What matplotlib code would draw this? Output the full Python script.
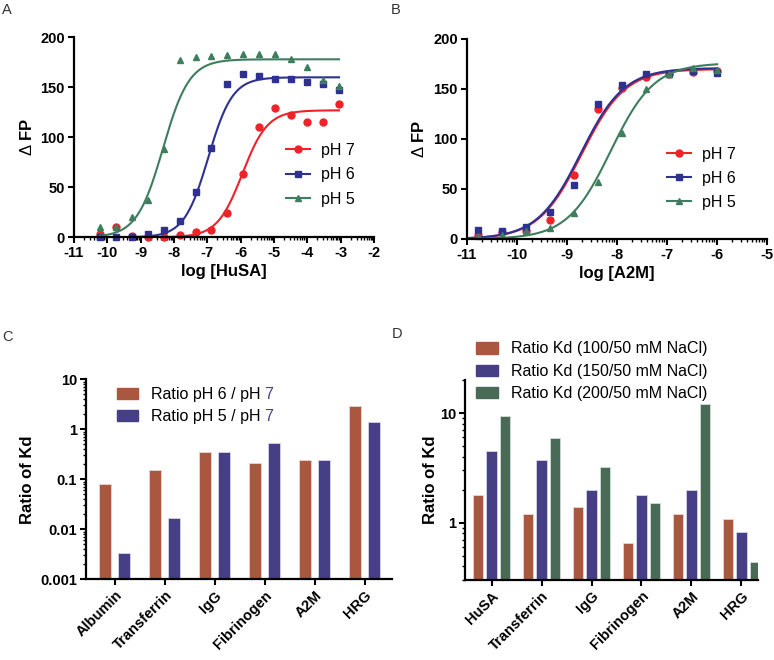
import numpy as np
import matplotlib
matplotlib.use("Agg")
import matplotlib.pyplot as plt
from matplotlib.lines import Line2D
from matplotlib.ticker import FixedLocator, NullFormatter

plt.rcParams['font.family'] = ['Liberation Sans', 'DejaVu Sans']
plt.rcParams['axes.unicode_minus'] = False
plt.rcParams['mathtext.fontset'] = 'custom'
plt.rcParams['mathtext.rm'] = 'Liberation Sans'

# Panel A: titulación con HuSA (log de concentración)
log_husa = [-10.21, -9.73, -9.26, -8.78, -8.30, -7.83, -7.35, -6.88,
            -6.41, -5.93, -5.45, -4.97, -4.49, -4.01, -3.53, -3.05]
husa_ph7 = [3, 10, 1.7, 0, 0, 2, 5, 7, 24, 63, 110, 129, 122, 115, 115, 133]
husa_ph6 = [0.7, 0, 0.7, 3, 7, 16, 45, 89, 153, 163, 161, 158, 158, 155, 153, 147]
husa_ph5 = [10.7, 10.7, 20, 37, 88, 177, 180, 181, 182, 183, 183, 183, 178, 170, 157, 151]
# parámetros del ajuste sigmoidal (pH 7, pH 6, pH 5)
husa_top = [127, 160, 178]
husa_ec50 = [-5.95, -6.97, -8.33]
husa_hill = [1.15, 1.2, 1.1]

# Panel B: titulación con A2M
log_a2m = [-10.77, -10.30, -9.82, -9.33, -8.85, -8.37, -7.90, -7.42, -6.95, -6.47, -5.99]
a2m_ph7 = [4, 6.7, 8.3, 19, 64, 130, 151, 162, 165, 167, 168]
a2m_ph6 = [9, 8.3, 12, 27, 54, 135, 154, 165, 165, 168, 166]
a2m_ph5 = [3.3, 4.3, 8, 11.3, 25.7, 56.7, 106, 150, 165, 171, 169]
a2m_top = [170, 171, 176]
a2m_ec50 = [-8.70, -8.72, -8.12]
a2m_hill = [1.0, 1.0, 1.0]

ph_labels = ['pH 7', 'pH 6', 'pH 5']

# Panel C: razón de Kd según pH
prot_c = ['Albumin', 'Transferrin', 'IgG', 'Fibrinogen', 'A2M', 'HRG']
ratio_ph6 = [0.081, 0.151, 0.352, 0.212, 0.244, 2.93]
ratio_ph5 = [0.0034, 0.0166, 0.352, 0.533, 0.244, 1.38]

# Panel D: razón de Kd según NaCl
prot_d = ['HuSA', 'Transferrin', 'IgG', 'Fibrinogen', 'A2M', 'HRG']
nacl_100 = [1.79, 1.2, 1.39, 0.656, 1.2, 1.09]
nacl_150 = [4.46, 3.69, 1.99, 1.77, 1.99, 0.828]
nacl_200 = [9.45, 5.9, 3.21, 1.52, 12.1, 0.434]
nacl_labels = ['Ratio Kd (100/50 mM NaCl)', 'Ratio Kd (150/50 mM NaCl)',
               'Ratio Kd (200/50 mM NaCl)']

# Colores
c_red = '#EE2229'
c_blue = '#2E3192'
c_green = '#3E7D5E'
b_orange = '#A9573F'
b_blue = '#463F86'
b_green = '#4A6A58'

W, H = 774, 660


def caja(l, t, r, b):
    return [l / W, 1 - b / H, (r - l) / W, (b - t) / H]


def sigmoide(x, top, ec50, hill):
    return top / (1 + 10 ** ((ec50 - x) * hill))


def estilo(ax):
    for s in ['top', 'right']:
        ax.spines[s].set_visible(False)
    for s in ['left', 'bottom']:
        ax.spines[s].set_linewidth(1.6)
    ax.tick_params(which='major', direction='out', length=4.5, width=1.5,
                   labelsize=10.5, pad=2)
    ax.tick_params(which='minor', direction='out', length=2.5, width=1.0)
    for lab in ax.get_xticklabels() + ax.get_yticklabels():
        lab.set_fontweight('bold')


fig = plt.figure(figsize=(7.74, 6.6), dpi=100)

# ---- Panel A ----
axA = fig.add_axes(caja(74, 37.3, 374, 237.3))
series = [(husa_ph7, c_red, 'o'), (husa_ph6, c_blue, 's'), (husa_ph5, c_green, '^')]
xc = np.linspace(log_husa[0], log_husa[-1], 300)
handles = []
for i, (ys, col, mk) in enumerate(series):
    axA.plot(xc, sigmoide(xc, husa_top[i], husa_ec50[i], husa_hill[i]), color=col, lw=1.5)
    axA.plot(log_husa, ys, mk, color=col, ms=5, mec=col, clip_on=False)
    handles.append(Line2D([], [], color=col, lw=1.5, marker=mk, ms=5))
axA.set_xlim(-11, -2)
axA.set_ylim(0, 200)
axA.set_xticks(range(-11, -1))
axA.xaxis.set_minor_locator(FixedLocator([d + np.log10(k) for d in range(-11, -2) for k in range(2, 10)]))
axA.set_yticks([0, 50, 100, 150, 200])
estilo(axA)
axA.set_xlabel('log [HuSA]', fontsize=12, fontweight='bold', labelpad=3)
axA.set_ylabel(r'$\Delta$ FP', fontsize=12, fontweight='bold', labelpad=4)
fig.legend(handles, ph_labels, loc='upper left', bbox_to_anchor=(286 / W, 1 - 143 / H),
           frameon=False, fontsize=11.5, handlelength=1.5, handletextpad=0.7,
           labelspacing=0.58, borderpad=0, borderaxespad=0)

# ---- Panel B ----
axB = fig.add_axes(caja(466.7, 39, 766.7, 239))
series = [(a2m_ph7, c_red, 'o'), (a2m_ph6, c_blue, 's'), (a2m_ph5, c_green, '^')]
xc = np.linspace(-11, log_a2m[-1], 300)
handles = []
for i, (ys, col, mk) in enumerate(series):
    axB.plot(xc, sigmoide(xc, a2m_top[i], a2m_ec50[i], a2m_hill[i]), color=col, lw=1.5)
    axB.plot(log_a2m, ys, mk, color=col, ms=5, mec=col, clip_on=False)
    handles.append(Line2D([], [], color=col, lw=1.5, marker=mk, ms=5))
axB.set_xlim(-11, -5)
axB.set_ylim(0, 200)
axB.set_xticks(range(-11, -4))
axB.xaxis.set_minor_locator(FixedLocator([d + np.log10(k) for d in range(-11, -5) for k in range(2, 10)]))
axB.set_yticks([0, 50, 100, 150, 200])
estilo(axB)
axB.set_xlabel('log [A2M]', fontsize=12, fontweight='bold', labelpad=3)
axB.set_ylabel(r'$\Delta$ FP', fontsize=12, fontweight='bold', labelpad=4)
fig.legend(handles, ph_labels, loc='upper left', bbox_to_anchor=(667 / W, 1 - 146.5 / H),
           frameon=False, fontsize=11.5, handlelength=1.5, handletextpad=0.7,
           labelspacing=0.58, borderpad=0, borderaxespad=0)

# ---- Panel C ----
axC = fig.add_axes(caja(86, 379.3, 392, 579.3))
axC.set_yscale('log', nonpositive='clip')
pos = np.arange(len(prot_c))
axC.bar(pos - 0.19, ratio_ph6, 0.24, color=b_orange, edgecolor='#E8D6D0', lw=0.6)
axC.bar(pos + 0.19, ratio_ph5, 0.24, color=b_blue, edgecolor='#D6D4E6', lw=0.6)
axC.set_ylim(0.001, 10)
axC.set_xlim(-0.58, 5.55)
axC.set_yticks([0.001, 0.01, 0.1, 1, 10])
axC.set_yticklabels(['0.001', '0.01', '0.1', '1', '10'])
axC.yaxis.set_minor_locator(FixedLocator([10.0 ** e * k for e in range(-3, 1) for k in range(2, 10)]))
axC.yaxis.set_minor_formatter(NullFormatter())
axC.set_xticks(pos)
axC.set_xticklabels(prot_c, rotation=45, ha='right', rotation_mode='anchor', fontsize=11.5)
estilo(axC)
axC.set_ylabel('Ratio of Kd', fontsize=12, fontweight='bold', labelpad=4)
hc = [plt.Rectangle((0, 0), 1, 1, color=b_orange), plt.Rectangle((0, 0), 1, 1, color=b_blue)]
legC = fig.legend(hc, ['Ratio pH 6 / pH', 'Ratio pH 5 / pH'], loc='upper left',
                  bbox_to_anchor=(116.5 / W, 1 - 387 / H), frameon=False, fontsize=11.5,
                  handlelength=1.35, handleheight=0.7, handletextpad=0.8,
                  labelspacing=0.42, borderpad=0, borderaxespad=0)

# ---- Panel D ----
axD = fig.add_axes(caja(465, 380, 758.3, 580))
axD.set_yscale('log', nonpositive='clip')
pos = np.arange(len(prot_d))
axD.bar(pos - 0.27, nacl_100, 0.21, color=b_orange, edgecolor='#E8D6D0', lw=0.6)
axD.bar(pos, nacl_150, 0.21, color=b_blue, edgecolor='#D6D4E6', lw=0.6)
axD.bar(pos + 0.27, nacl_200, 0.21, color=b_green, edgecolor='#D4DDD8', lw=0.6)
axD.set_ylim(0.3, 20)
axD.set_xlim(-0.535, 5.34)
axD.set_yticks([1, 10])
axD.set_yticklabels(['1', '10'])
axD.yaxis.set_minor_locator(FixedLocator([0.3, 0.4, 0.5, 0.6, 0.7, 0.8, 0.9] +
                                          [float(k) for k in range(2, 10)] + [20.0]))
axD.yaxis.set_minor_formatter(NullFormatter())
axD.set_xticks(pos)
axD.set_xticklabels(prot_d, rotation=45, ha='right', rotation_mode='anchor', fontsize=11.5)
estilo(axD)
axD.set_ylabel('Ratio of Kd', fontsize=12, fontweight='bold', labelpad=1)
hd = [plt.Rectangle((0, 0), 1, 1, color=c) for c in [b_orange, b_blue, b_green]]
fig.legend(hd, nacl_labels, loc='upper left', bbox_to_anchor=(475.5 / W, 1 - 341.5 / H),
           frameon=False, fontsize=11.5, handlelength=1.4, handleheight=0.7,
           handletextpad=0.8, labelspacing=0.45, borderpad=0, borderaxespad=0)

# Etiquetas de los paneles
for txt, x, y in [('A', 2, 3), ('B', 391, 3), ('C', 2, 330), ('D', 392, 327)]:
    fig.text(x / W, 1 - y / H, txt, fontsize=10.5, color='#333333', va='top', ha='left')

# el "7" de la leyenda de C va en azul: se coloca tras dibujar
fig.canvas.draw()
for t in legC.get_texts():
    bb = t.get_window_extent()
    fig.text((bb.x1 + 4) / W, bb.y0 / H, '7', fontsize=11.5, color=b_blue,
             ha='left', va='bottom')

fig.savefig('out.png', dpi=100)
